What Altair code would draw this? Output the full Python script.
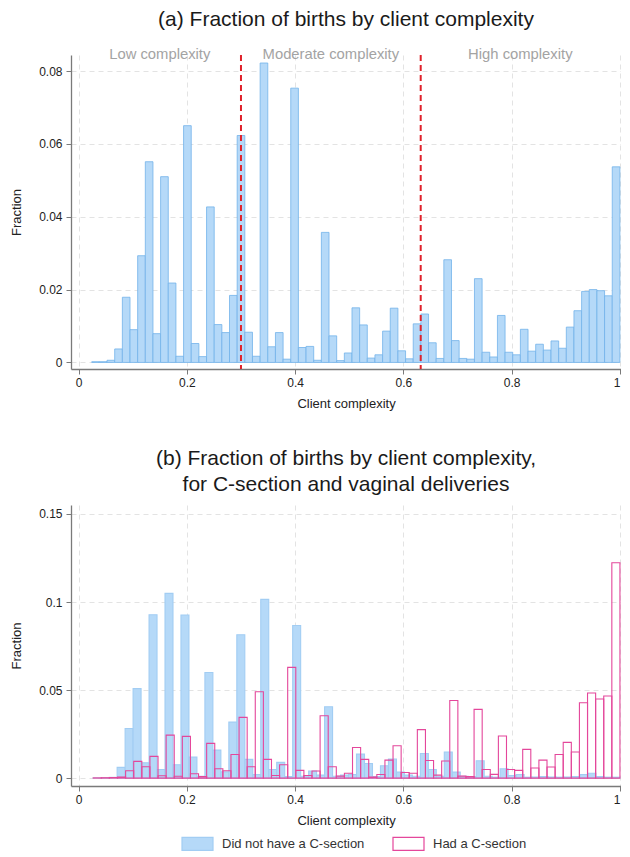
import altair as alt
import pandas as pd

FONT = "Liberation Sans"

# ---------------- data ----------------
# Panel (a): 69 equal-width bins
a_start = 0.0243
a_width = 0.01414
a_frac = [0.0002, 0.0002, 0.0006, 0.0037, 0.0179, 0.0090, 0.0293, 0.0551, 0.0079, 0.0510,
          0.0218, 0.0017, 0.0650, 0.0052, 0.0016, 0.0427, 0.0104, 0.0082, 0.0184, 0.0623,
          0.0083, 0.0017, 0.0822, 0.0043, 0.0082, 0.0009, 0.0753, 0.0041, 0.0044, 0.0006,
          0.0357, 0.0073, 0.0005, 0.0026, 0.0150, 0.0103, 0.0012, 0.0021, 0.0086, 0.0149,
          0.0032, 0.0010, 0.0106, 0.0133, 0.0054, 0.0011, 0.0282, 0.0060, 0.0011, 0.0009,
          0.0230, 0.0028, 0.0015, 0.0129, 0.0028, 0.0021, 0.0091, 0.0031, 0.0050, 0.0034,
          0.0059, 0.0039, 0.0097, 0.0142, 0.0195, 0.0200, 0.0197, 0.0183, 0.0537]

cutoffs = [0.3, 0.632]
regions = ["Low complexity", "Moderate complexity", "High complexity"]
region_mid = [0.15, 0.466, 0.816]

# Panel (b)
b_start = 0.027
nocs_label = "Did not have a C-section"
cs_label = "Had a C-section"
nocs_width = 0.01474
nocs_frac = [0.0001, 0.0002, 0.0004, 0.0061, 0.0282, 0.0508, 0.0087, 0.0928, 0.0049, 0.1049,
             0.0076, 0.0926, 0.0119, 0.0010, 0.0600, 0.0159, 0.0035, 0.0318, 0.0814, 0.0106,
             0.0020, 0.1015, 0.0049, 0.0089, 0.0008, 0.0867, 0.0010, 0.0040, 0.0017, 0.0405,
             0.0010, 0.0017, 0.0020, 0.0136, 0.0083, 0.0008, 0.0070, 0.0108, 0.0034, 0.0017,
             0.0010, 0.0140, 0.0049, 0.0010, 0.0148, 0.0034, 0.0010, 0.0008, 0.0098, 0.0010,
             0.0005, 0.0053, 0.0015, 0.0020, 0.0005, 0.0006, 0.0008, 0.0006, 0.0005, 0.0006,
             0.0008, 0.0020, 0.0027, 0.0008, 0.0005, 0.0005]
cs_width = 0.01497
cs_frac = [0.0001, 0.0002, 0.0003, 0.0006, 0.0042, 0.0095, 0.0064, 0.0123, 0.0013, 0.0244,
           0.0010, 0.0237, 0.0025, 0.0008, 0.0197, 0.0053, 0.0042, 0.0134, 0.0345, 0.0064,
           0.0490, 0.0106, 0.0015, 0.0076, 0.0629, 0.0044, 0.0015, 0.0040, 0.0354, 0.0064,
           0.0011, 0.0027, 0.0174, 0.0106, 0.0006, 0.0020, 0.0102, 0.0184, 0.0032, 0.0027,
           0.0275, 0.0100, 0.0017, 0.0097, 0.0441, 0.0011, 0.0008, 0.0390, 0.0049, 0.0021,
           0.0239, 0.0049, 0.0044, 0.0163, 0.0057, 0.0102, 0.0063, 0.0134, 0.0203, 0.0148,
           0.0428, 0.0483, 0.0449, 0.0466, 0.1223]

x_ticks = [0, 0.2, 0.4, 0.6, 0.8, 1]
ya_ticks = [0, 0.02, 0.04, 0.06, 0.08]
yb_ticks = [0, 0.05, 0.1, 0.15]


def bins(start, width, vals, series=""):
    return pd.DataFrame({
        "lo": [start + i * width for i in range(len(vals))],
        "hi": [start + (i + 1) * width for i in range(len(vals))],
        "frac": vals,
        "series": [series] * len(vals),
    })


BLUE_FILL = "#b5d9f8"
BLUE_EDGE = "#72b3ea"
PINK = "#e4479b"
RED = "#e0222b"
GRAY_TXT = "#a3a3a3"

W = 550
xs = alt.Scale(domain=[-0.014, 1.002], nice=False, zero=False)


def x_axis():
    return alt.Axis(values=x_ticks, format="~g", title="Client complexity",
                    labelFlush=5, labelPadding=3, titlePadding=9.5)


def y_axis(vals):
    return alt.Axis(values=vals, format="~g", title="Fraction", titlePadding=16,
                    labelPadding=4, minExtent=32, maxExtent=32)


# ---------------- panel (a) ----------------
ya = alt.Scale(domain=[-0.0018, 0.0844], nice=False, zero=False)
a_bars = alt.Chart(bins(a_start, a_width, a_frac)).mark_rect(
    fill=BLUE_FILL, stroke=BLUE_EDGE, strokeWidth=0.8
).encode(
    x=alt.X("lo:Q", scale=xs, axis=x_axis()),
    x2="hi:Q",
    y=alt.Y("frac:Q", scale=ya, axis=y_axis(ya_ticks)),
    y2=alt.datum(0),
)
a_rules = alt.Chart(pd.DataFrame({"c": cutoffs})).mark_rule(
    color=RED, strokeDash=[6, 4], strokeWidth=2
).encode(x=alt.X("c:Q", scale=xs))
a_text = alt.Chart(pd.DataFrame({"m": region_mid, "t": regions})).mark_text(
    font=FONT, fontSize=14.8, color=GRAY_TXT, baseline="alphabetic", align="center"
).encode(x=alt.X("m:Q", scale=xs), y=alt.value(4), text="t:N")

panel_a = alt.layer(a_bars, a_rules, a_text).properties(
    width=W, height=314,
    title=alt.TitleParams("(a) Fraction of births by client complexity", font=FONT,
                          fontSize=21, fontWeight="normal", color="#1a1a1a",
                          anchor="middle", offset=17),
)

# ---------------- panel (b) ----------------
yb = alt.Scale(domain=[-0.0045, 0.1551], nice=False, zero=False)
b_df = pd.concat([bins(b_start, nocs_width, nocs_frac, nocs_label),
                  bins(b_start, cs_width, cs_frac, cs_label)], ignore_index=True)
series_dom = [nocs_label, cs_label]
legend = alt.Legend(title=None, orient="none", legendX=110, legendY=772,
                    direction="horizontal", symbolType="M-1,-0.42H1V0.42H-1Z",
                    symbolSize=961, symbolStrokeWidth=1.2, labelFont=FONT,
                    labelFontSize=13, labelColor="#333", labelOffset=8,
                    columnPadding=25, padding=0)
b_bars = alt.Chart(b_df).mark_rect(strokeWidth=1.1).encode(
    x=alt.X("lo:Q", scale=xs, axis=x_axis()),
    x2="hi:Q",
    y=alt.Y("frac:Q", scale=yb, axis=y_axis(yb_ticks)),
    y2=alt.datum(0),
    fill=alt.Fill("series:N", scale=alt.Scale(domain=series_dom,
                                              range=[BLUE_FILL, "rgba(255,255,255,0)"]),
                  legend=legend),
    stroke=alt.Stroke("series:N", scale=alt.Scale(domain=series_dom,
                                                  range=["#a2cdf3", PINK]),
                      legend=legend),
)
panel_b = b_bars.properties(
    width=W, height=281,
    title=alt.TitleParams(["(b) Fraction of births by client complexity,",
                           "for C-section and vaginal deliveries"], font=FONT,
                          fontSize=21, fontWeight="normal", color="#1a1a1a",
                          anchor="middle", lineHeight=26, offset=10),
)

chart = alt.vconcat(panel_a, panel_b, spacing=37).properties(
    padding={"left": 2, "top": 1, "right": 0, "bottom": 0},
    background="white",
).configure_view(stroke=None).configure_axis(
    labelFont=FONT, titleFont=FONT, labelFontSize=12, titleFontSize=13,
    titleFontWeight="normal", labelColor="#222", titleColor="#222",
    domainColor="#7a7a7a", domainWidth=1.3, tickColor="#7a7a7a", tickSize=5,
    grid=True, gridColor="#e3e3e3", gridDash=[5, 4], gridWidth=1,
)

chart.save("out.html", embed_options={"renderer": "svg", "actions": False})
